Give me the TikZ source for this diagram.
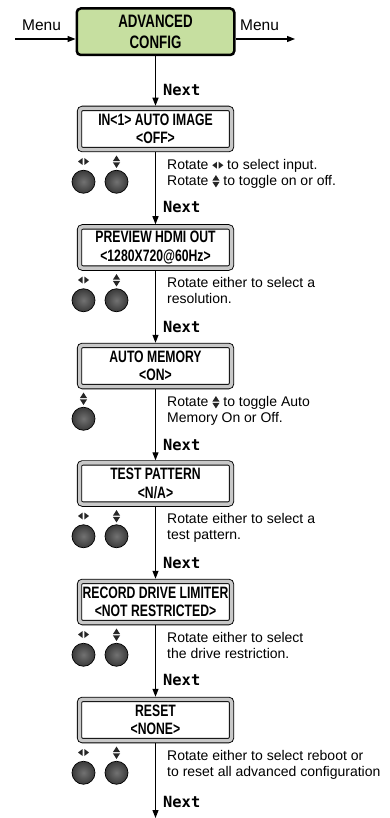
\documentclass[tikz,border=0pt]{standalone}
\usepackage{fontspec}
\setmainfont{Liberation Sans}
\newfontfamily\condf[FakeStretch=0.74]{Liberation Sans}
\newfontfamily\monof{DejaVu Sans Mono}
\usetikzlibrary{arrows.meta}
\definecolor{lcdgreen}{HTML}{C6DFA0}
\definecolor{lcdgray}{HTML}{C8C8C8}
\definecolor{knobin}{HTML}{727272}
\definecolor{knobout}{HTML}{3A3A3A}
\newcommand\lrglyph{\begin{pgfpicture}\pgfsetbaseline{-4pt}\pgfsetfillcolor{black!85}%
  \pgfpathmoveto{\pgfpoint{0pt}{0pt}}\pgfpathlineto{\pgfpoint{4.6pt}{3.5pt}}\pgfpathlineto{\pgfpoint{4.6pt}{-3.5pt}}\pgfpathclose
  \pgfpathmoveto{\pgfpoint{11pt}{0pt}}\pgfpathlineto{\pgfpoint{6.4pt}{3.5pt}}\pgfpathlineto{\pgfpoint{6.4pt}{-3.5pt}}\pgfpathclose
  \pgfusepath{fill}\end{pgfpicture}}
\newcommand\udglyph{\begin{pgfpicture}\pgfsetbaseline{-4pt}\pgfsetfillcolor{black!85}%
  \pgfpathmoveto{\pgfpoint{-3.6pt}{0.6pt}}\pgfpathlineto{\pgfpoint{3.6pt}{0.6pt}}\pgfpathlineto{\pgfpoint{0pt}{6.2pt}}\pgfpathclose
  \pgfpathmoveto{\pgfpoint{-3.6pt}{-0.6pt}}\pgfpathlineto{\pgfpoint{3.6pt}{-0.6pt}}\pgfpathlineto{\pgfpoint{0pt}{-6.2pt}}\pgfpathclose
  \pgfusepath{fill}\end{pgfpicture}}
\begin{document}
\begin{tikzpicture}[x=1pt,y=-1pt,
  conn/.style={line width=1.2pt,-{Triangle[length=8pt,width=6pt]}},
  greenbox/.style={draw=black,line width=2.5pt,fill=lcdgreen,rounded corners=4pt,
    minimum width=157.5pt,minimum height=46.5pt,align=center,inner sep=0pt,
    font=\condf\bfseries\fontsize{18}{21}\selectfont},
  lcd/.style={draw=black,line width=0.9pt,double=lcdgray,double distance=3.5pt,
    fill=white,rounded corners=3pt,minimum width=152pt,minimum height=41.2pt,
    outer sep=2.65pt,align=center,inner sep=0pt,
    font=\condf\bfseries\fontsize{16.5}{18.5}\selectfont},
  nxt/.style={anchor=base west,inner sep=0pt,font=\monof\bfseries\fontsize{15.4}{16}\selectfont},
  menu/.style={anchor=base west,inner sep=0pt,font=\fontsize{15.5}{17}\selectfont},
  desc/.style={anchor=base west,inner sep=0pt,font=\fontsize{14}{16}\selectfont},
  knob/.style={circle,minimum size=23pt,inner sep=0pt,draw=black,line width=0.7pt,
    inner color=knobin,outer color=knobout},
  glyph/.style={inner sep=0pt}]
\useasboundingbox (0,0) rectangle (389,818);
\clip (0,0) rectangle (389,818);

% top menu box
\node[greenbox] (g) at (155.5,31.75) {ADVANCED\\CONFIG};
\coordinate (mL) at (15,39);
\coordinate (mR) at (295,39);
\node[menu] (menuL) at (22,31) {Menu};
\node[menu] (menuR) at (240,31) {Menu};
\draw[conn] (mL) -- (mL -| g.west);
\draw[conn] (mR -| g.east) -- (mR);

% LCD boxes
\node[lcd] (b1) at (155.5,129)   {IN<1> AUTO IMAGE\\<OFF>};
\node[lcd] (b2) at (155.5,247.5) {PREVIEW HDMI OUT\\<1280X720@60Hz>};
\node[lcd] (b3) at (155.5,366)   {AUTO MEMORY\\<ON>};
\node[lcd] (b4) at (155.5,483.5) {TEST PATTERN\\<N/A>};
\node[lcd] (b5) at (155.5,602)   {RECORD DRIVE LIMITER\\<NOT RESTRICTED>};
\node[lcd] (b6) at (155.5,720)   {RESET\\<NONE>};
\coordinate (end) at (155.5,818);

% connectors
\draw[conn] (g) -- (b1);
\draw[conn] (b1) -- (b2);
\draw[conn] (b2) -- (b3);
\draw[conn] (b3) -- (b4);
\draw[conn] (b4) -- (b5);
\draw[conn] (b5) -- (b6);
\draw[conn] (b6) -- (end);

% Next labels
\node[nxt] (n0) at (163,95.6)  {Next};
\node[nxt] (n1) at (163,212.6) {Next};
\node[nxt] (n2) at (163,332.6) {Next};
\node[nxt] (n3) at (163,450.6) {Next};
\node[nxt] (n4) at (163,568.6) {Next};
\node[nxt] (n5) at (163,685.6) {Next};
\node[nxt] (n6) at (163,807.6) {Next};

% knobs with two controls
\foreach \i/\yi/\yk in {1/161.75/181.75, 2/280.25/300.25, 4/516.25/536.25, 5/634.75/654.75, 6/752.75/772.75}{
  \node[glyph] (lr\i) at (83.5,\yi) {\lrglyph};
  \node[glyph] (ud\i) at (116.5,\yi) {\udglyph};
  \node[knob] (ka\i) at (83.5,\yk) {};
  \node[knob] (kb\i) at (116.5,\yk) {};
}
% single knob
\node[glyph] (ud3) at (83.5,398.75) {\udglyph};
\node[knob] (ka3) at (83.5,418.75) {};

% descriptions
\node[desc] (d1a) at (167,169.25) {Rotate \lrglyph{} to select input.};
\node[desc] (d1b) at (167,185.25) {Rotate \udglyph{} to toggle on or off.};
\node[desc] (d2a) at (167,287.75) {Rotate either to select a};
\node[desc] (d2b) at (167,303.75) {resolution.};
\node[desc] (d3a) at (167,406.25) {Rotate \udglyph{} to toggle Auto};
\node[desc] (d3b) at (167,422.25) {Memory On or Off.};
\node[desc] (d4a) at (167,523.75) {Rotate either to select a};
\node[desc] (d4b) at (167,539.75) {test pattern.};
\node[desc] (d5a) at (167,642.25) {Rotate either to select};
\node[desc] (d5b) at (167,658.25) {the drive restriction.};
\node[desc] (d6a) at (167,760.25) {Rotate either to select reboot or};
\node[desc] (d6b) at (167,776.25) {to reset all advanced configuration};
\end{tikzpicture}
\end{document}
